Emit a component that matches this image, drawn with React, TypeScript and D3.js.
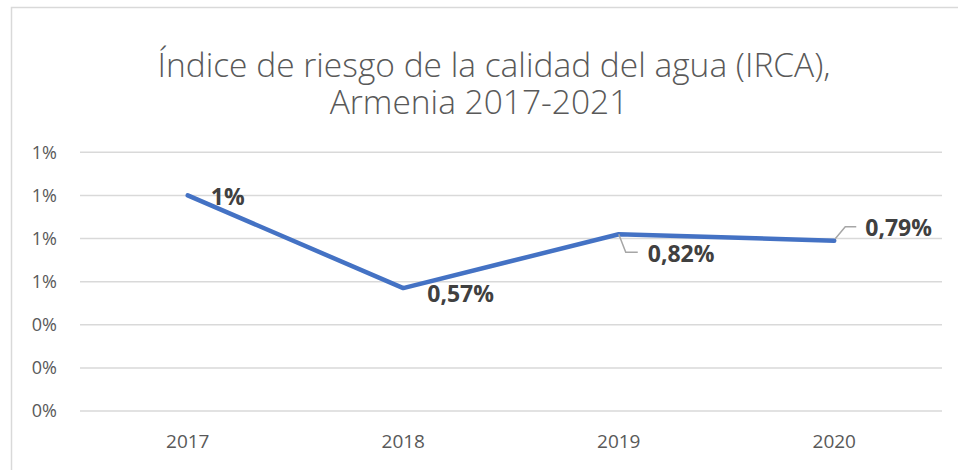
import React from "react";
import * as d3 from "d3";

const categories = ["2017", "2018", "2019", "2020"];
const values = [1.0, 0.57, 0.82, 0.79];
const valueLabels = ["1%", "0,57%", "0,82%", "0,79%"];
const yTickValues = [0, 0.2, 0.4, 0.6, 0.8, 1.0, 1.2];
const yTickLabels = ["0%", "0%", "0%", "1%", "1%", "1%", "1%"];
const titleLines = ["Índice de riesgo de la calidad del agua (IRCA),", "Armenia 2017-2021"];

const W = 958;
const H = 470;
const FONT = "'Open Sans', 'DejaVu Sans', sans-serif";

// label placement relative to point (dx to text start, dy to text middle), optional leader
const labelLayout = [
  { dx: 23, dy: 2, leader: null as null | number[][] },
  { dx: 24, dy: 6, leader: null },
  { dx: 29, dy: 20, leader: [[0, 0], [7, 18], [19, 18]] },
  { dx: 31, dy: -13, leader: [[1, -2], [11, -14], [22, -14]] },
];

export default function App() {
  const x = d3.scaleBand<string>().domain(categories).range([80, 942]).padding(0);
  const y = d3.scaleLinear().domain([0, 1.2]).range([411, 152.3]);
  const cx = (c: string) => (x(c) as number) + x.bandwidth() / 2;

  const line = d3
    .line<number>()
    .x((_, i) => cx(categories[i]))
    .y((d) => y(d));

  return (
    <svg
      width={W}
      height={H}
      style={{ position: "absolute", left: 0, top: 0, background: "#fff" }}
      fontFamily={FONT}
    >
      <rect x={0} y={0} width={W} height={H} fill="#fff" />
      {/* chart frame */}
      <path d={`M11.5,${H + 5} L11.5,7.5 L${W + 5},7.5`} fill="none" stroke="#d9d9d9" strokeWidth={1.5} />

      {/* title */}
      <text x={494} y={77} textAnchor="middle" fontSize={33.5} fontWeight={300} fill="#595959">
        {titleLines[0]}
      </text>
      <text x={479} y={114} textAnchor="middle" fontSize={33.5} fontWeight={300} fill="#595959">
        {titleLines[1]}
      </text>

      {/* gridlines */}
      {yTickValues.map((v, i) => (
        <line key={"g" + i} x1={80} x2={942} y1={y(v)} y2={y(v)} stroke="#d9d9d9" strokeWidth={1.5} />
      ))}

      {/* y tick labels */}
      {yTickValues.map((v, i) => (
        <text
          key={"yl" + i}
          x={57}
          y={y(v)}
          dy="0.35em"
          textAnchor="end"
          fontSize={18}
          fill="#595959"
        >
          {yTickLabels[i]}
        </text>
      ))}

      {/* x tick labels */}
      {categories.map((c) => (
        <text key={"xl" + c} x={cx(c)} y={441} dy="0.35em" textAnchor="middle" fontSize={19} fill="#595959">
          {c}
        </text>
      ))}

      {/* series line */}
      <path
        d={line(values) || ""}
        fill="none"
        stroke="#4472C4"
        strokeWidth={4.5}
        strokeLinejoin="round"
        strokeLinecap="round"
      />

      {/* leader lines */}
      {values.map((v, i) => {
        const L = labelLayout[i].leader;
        if (!L) return null;
        const px = cx(categories[i]);
        const py = y(v);
        const d = L.map((p, j) => `${j === 0 ? "M" : "L"}${px + p[0]},${py + p[1]}`).join(" ");
        return <path key={"ld" + i} d={d} fill="none" stroke="#a6a6a6" strokeWidth={1.5} />;
      })}

      {/* data labels */}
      {values.map((v, i) => (
        <text
          key={"dl" + i}
          x={cx(categories[i]) + labelLayout[i].dx}
          y={y(v) + labelLayout[i].dy}
          dy="0.35em"
          fontSize={23}
          fontWeight={700}
          fill="#404040"
        >
          {valueLabels[i]}
        </text>
      ))}
    </svg>
  );
}
